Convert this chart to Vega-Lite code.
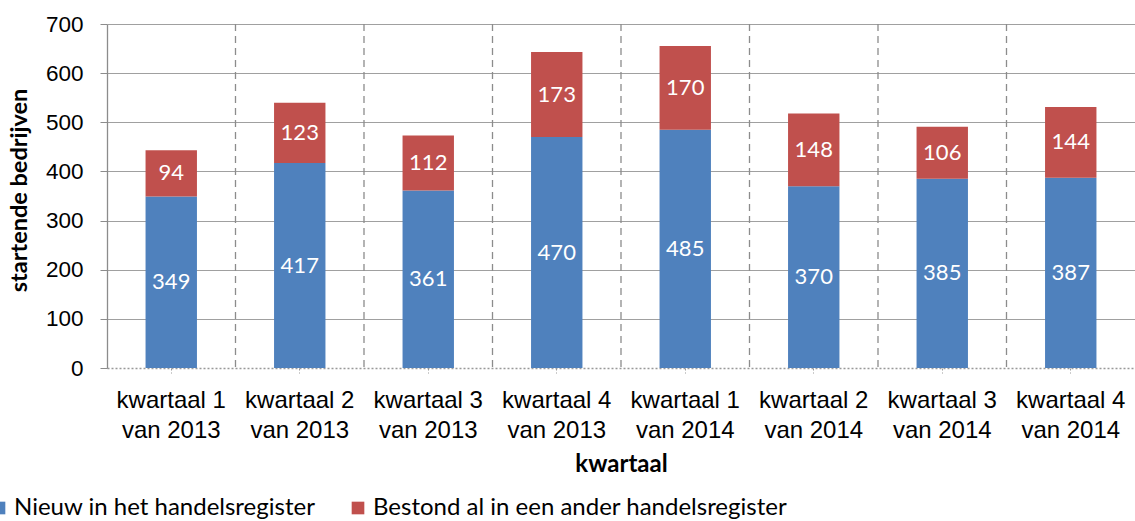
{
  "$schema": "https://vega.github.io/schema/vega-lite/v6.json",
  "width": 1028,
  "height": 344,
  "autosize": "none",
  "padding": {"left": 107, "top": 24, "right": 0, "bottom": 153},
  "background": "white",
  "config": {"view": {"stroke": null}},
  "data": {
    "values": [
      {"kwartaal": "kwartaal 1 van 2013", "categorie": "Nieuw in het handelsregister", "volgorde": 1, "aantal": 349},
      {"kwartaal": "kwartaal 1 van 2013", "categorie": "Bestond al in een ander handelsregister", "volgorde": 2, "aantal": 94},
      {"kwartaal": "kwartaal 2 van 2013", "categorie": "Nieuw in het handelsregister", "volgorde": 1, "aantal": 417},
      {"kwartaal": "kwartaal 2 van 2013", "categorie": "Bestond al in een ander handelsregister", "volgorde": 2, "aantal": 123},
      {"kwartaal": "kwartaal 3 van 2013", "categorie": "Nieuw in het handelsregister", "volgorde": 1, "aantal": 361},
      {"kwartaal": "kwartaal 3 van 2013", "categorie": "Bestond al in een ander handelsregister", "volgorde": 2, "aantal": 112},
      {"kwartaal": "kwartaal 4 van 2013", "categorie": "Nieuw in het handelsregister", "volgorde": 1, "aantal": 470},
      {"kwartaal": "kwartaal 4 van 2013", "categorie": "Bestond al in een ander handelsregister", "volgorde": 2, "aantal": 173},
      {"kwartaal": "kwartaal 1 van 2014", "categorie": "Nieuw in het handelsregister", "volgorde": 1, "aantal": 485},
      {"kwartaal": "kwartaal 1 van 2014", "categorie": "Bestond al in een ander handelsregister", "volgorde": 2, "aantal": 170},
      {"kwartaal": "kwartaal 2 van 2014", "categorie": "Nieuw in het handelsregister", "volgorde": 1, "aantal": 370},
      {"kwartaal": "kwartaal 2 van 2014", "categorie": "Bestond al in een ander handelsregister", "volgorde": 2, "aantal": 148},
      {"kwartaal": "kwartaal 3 van 2014", "categorie": "Nieuw in het handelsregister", "volgorde": 1, "aantal": 385},
      {"kwartaal": "kwartaal 3 van 2014", "categorie": "Bestond al in een ander handelsregister", "volgorde": 2, "aantal": 106},
      {"kwartaal": "kwartaal 4 van 2014", "categorie": "Nieuw in het handelsregister", "volgorde": 1, "aantal": 387},
      {"kwartaal": "kwartaal 4 van 2014", "categorie": "Bestond al in een ander handelsregister", "volgorde": 2, "aantal": 144}
    ]
  },
  "layer": [
    {
      "data": {
        "values": [
          {"kwartaal": "kwartaal 2 van 2013"},
          {"kwartaal": "kwartaal 3 van 2013"},
          {"kwartaal": "kwartaal 4 van 2013"},
          {"kwartaal": "kwartaal 1 van 2014"},
          {"kwartaal": "kwartaal 2 van 2014"},
          {"kwartaal": "kwartaal 3 van 2014"},
          {"kwartaal": "kwartaal 4 van 2014"}
        ]
      },
      "mark": {"type": "rule", "strokeDash": [7, 5], "color": "#8c8c8c", "strokeWidth": 1.3},
      "encoding": {
        "x": {
          "field": "kwartaal",
          "type": "nominal",
          "bandPosition": 0,
          "sort": null,
          "scale": {
            "domain": ["kwartaal 1 van 2013", "kwartaal 2 van 2013", "kwartaal 3 van 2013", "kwartaal 4 van 2013", "kwartaal 1 van 2014", "kwartaal 2 van 2014", "kwartaal 3 van 2014", "kwartaal 4 van 2014"],
            "paddingInner": 0,
            "paddingOuter": 0
          },
          "axis": null
        }
      }
    },
    {
      "encoding": {
        "x": {
          "field": "kwartaal",
          "type": "nominal",
          "sort": null,
          "scale": {
            "domain": ["kwartaal 1 van 2013", "kwartaal 2 van 2013", "kwartaal 3 van 2013", "kwartaal 4 van 2013", "kwartaal 1 van 2014", "kwartaal 2 van 2014", "kwartaal 3 van 2014", "kwartaal 4 van 2014"],
            "paddingInner": 0.6,
            "paddingOuter": 0.3
          },
          "axis": {
            "title": "kwartaal",
            "labelAngle": 0,
            "labelExpr": "[slice(datum.value, 0, 10), slice(datum.value, 11)]",
            "labelFont": "Liberation Sans",
            "labelFontSize": 24,
            "labelLineHeight": 30,
            "labelColor": "black",
            "labelPadding": 15,
            "labelLimit": 500,
            "tickSize": 5,
            "tickDash": [2, 2],
            "tickColor": "#999999",
            "domainDash": [2, 2],
            "domainColor": "#999999",
            "domainWidth": 1.3,
            "titleFont": "Lato",
            "titleFontSize": 24,
            "titleFontWeight": "bold",
            "titleColor": "black",
            "titlePadding": 10
          }
        },
        "y": {
          "field": "aantal",
          "type": "quantitative",
          "stack": "zero",
          "scale": {"domain": [0, 700]},
          "axis": {
            "title": "startende bedrijven",
            "values": [0, 100, 200, 300, 400, 500, 600, 700],
            "grid": true,
            "gridColor": "#a0a0a0",
            "gridWidth": 1.2,
            "gridOpacity": {"condition": {"test": "datum.value === 0", "value": 0}, "value": 1},
            "domainColor": "#8c8c8c",
            "domainWidth": 1.3,
            "tickColor": "#8c8c8c",
            "tickSize": 7,
            "labelPadding": 17,
            "labelFont": "Liberation Sans",
            "labelFontSize": 22.5,
            "labelColor": "black",
            "titleFont": "Lato",
            "titleFontSize": 23.5,
            "titleFontWeight": "bold",
            "titleColor": "black",
            "titleX": -88,
            "titleY": 166,
            "titleAngle": -90,
            "titleAlign": "center",
            "titleBaseline": "middle"
          }
        },
        "order": {"field": "volgorde", "type": "quantitative"}
      },
      "layer": [
        {
          "mark": {"type": "bar"},
          "encoding": {
            "color": {
              "field": "categorie",
              "type": "nominal",
              "sort": null,
              "scale": {
                "domain": ["Nieuw in het handelsregister", "Bestond al in een ander handelsregister"],
                "range": ["#4f81bd", "#c0504d"]
              },
              "legend": {
                "orient": "none",
                "legendX": -120,
                "legendY": 472,
                "direction": "horizontal",
                "title": null,
                "symbolType": "square",
                "symbolSize": 160,
                "symbolStrokeWidth": 0,
                "labelFont": "Lato",
                "labelFontSize": 24,
                "labelLimit": 800,
                "labelColor": "black",
                "labelOffset": 3,
                "columnPadding": 30,
                "padding": 0
              }
            }
          }
        },
        {
          "mark": {"type": "text", "font": "Lato", "fontSize": 22, "color": "white", "baseline": "middle", "align": "center"},
          "encoding": {
            "y": {"field": "aantal", "type": "quantitative", "stack": "zero", "bandPosition": 0.5},
            "text": {"field": "aantal", "type": "quantitative"}
          }
        }
      ]
    }
  ],
  "resolve": {"scale": {"x": "independent"}}
}
